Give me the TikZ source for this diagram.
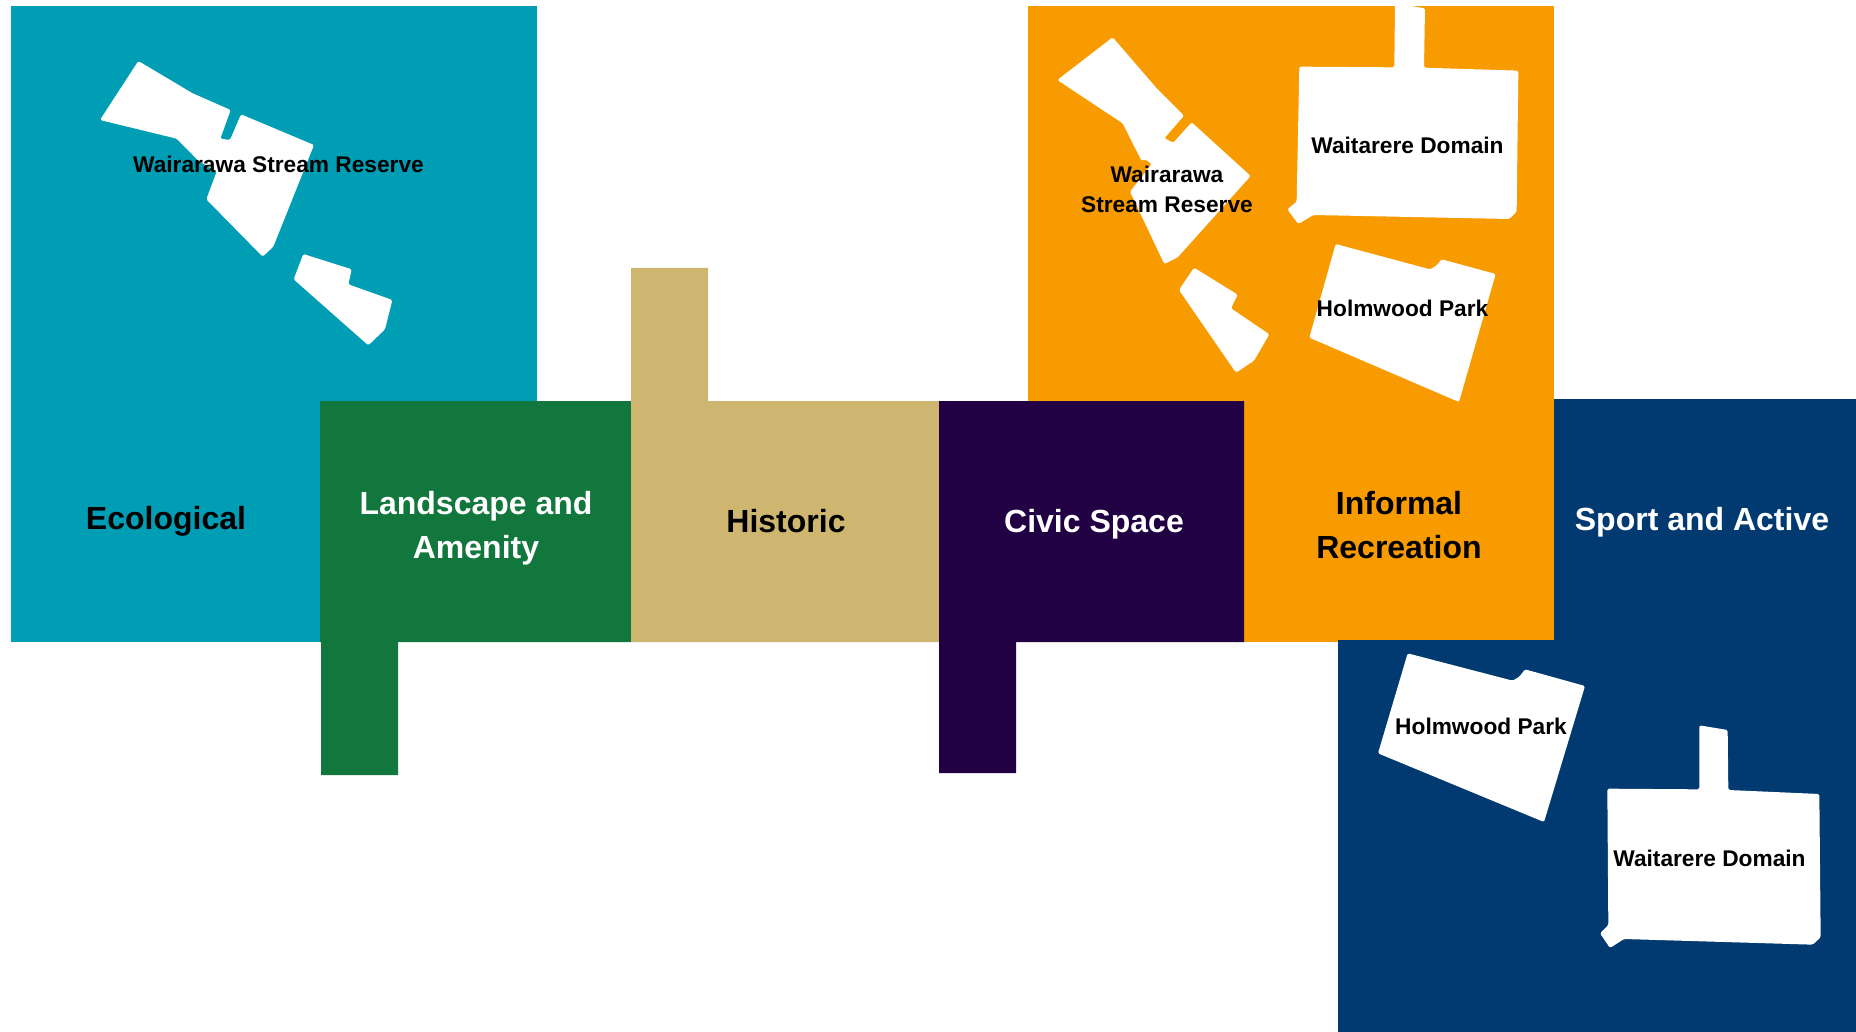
\documentclass[tikz,border=0pt]{standalone}
\usepackage{fontspec}
\setmainfont{Liberation Sans}
\definecolor{tealb}{HTML}{009EB5}
\definecolor{greenb}{HTML}{12773C}
\definecolor{sandb}{HTML}{CEB670}
\definecolor{purpleb}{HTML}{220044}
\definecolor{orangeb}{HTML}{F89B00}
\definecolor{navyb}{HTML}{003A70}
\tikzset{
  block/.style={fill=#1,draw=none},
  parcel/.style={fill=white,draw=none,rounded corners=1.5pt},
  biglabel/.style={font=\fontsize{32}{44}\selectfont\bfseries,align=center,inner sep=0pt},
  smalllabel/.style={font=\fontsize{22.7}{30}\selectfont\bfseries,align=center,inner sep=0pt},
  zoomed/.style={shift={#1},x=.33333pt,y=-.33333pt}
}
\begin{document}
\begin{tikzpicture}[x=1pt,y=-1pt]
\useasboundingbox (0,0) rectangle (1856,1032);
\fill[block=tealb] (11,6) rectangle (537,642);
\fill[block=orangeb] (1028,6) rectangle (1554,642);
\fill[block=navyb] (1554,399) -- (1856,399) -- (1856,1032) -- (1338,1032) -- (1338,640) -- (1554,640) -- cycle;
\fill[block=greenb] (320,401) -- (631,401) -- (631,642) -- (398,642) -- (398,775) -- (321,775) -- (321,642) -- (320,642) -- cycle;
\fill[block=sandb] (631,268) -- (708,268) -- (708,401) -- (939,401) -- (939,642) -- (631,642) -- cycle;
\fill[block=purpleb] (939,401) -- (1244,401) -- (1244,642) -- (1016,642) -- (1016,773) -- (939,773) -- cycle;
\begin{scope}[zoomed={(80,40)}]
\fill[parcel] (175,63) -- (338,160) -- (452,210) -- (421,296) -- (450,300) -- (483,223) -- (702,315) -- (580,620) -- (548,650) -- (379,478) -- (410,395) -- (355,362) -- (290,296) -- (60,240) -- cycle;
\fill[parcel] (670,642) -- (815,688) -- (805,733) -- (937,780) -- (915,868) -- (865,916) -- (641,718) -- cycle;
\end{scope}
\begin{scope}[zoomed={(1040,0)}]
\fill[parcel] (218,112) -- (350,265) -- (432,347) -- (373,415) -- (400,428) -- (455,367) -- (632,528) -- (413,772) -- (373,792) -- (270,575) -- (335,492) -- (315,478) -- (305,483) -- (248,370) -- (52,240) -- cycle;
\fill[parcel] (462,803) -- (593,884) -- (573,925) -- (688,1003) -- (642,1082) -- (588,1118) -- (417,870) -- cycle;
\end{scope}
\begin{scope}[zoomed={(1270,0)}]
\fill[parcel] (375,10) -- (465,25) -- (462,203) -- (745,212) -- (740,635) -- (718,657) -- (130,645) -- (85,672) -- (52,628) -- (80,605) -- (88,200) -- (373,202) -- cycle;
\end{scope}
\begin{scope}[zoomed={(1290,230)}]
\fill[parcel] (137,42) -- (420,118) -- (438,108) -- (455,88) -- (617,132) -- (507,516) -- (58,323) -- cycle;
\end{scope}
\begin{scope}[zoomed={(1360,640)}]
\fill[parcel] (143,40) -- (458,122) -- (478,110) -- (495,88) -- (675,138) -- (552,546) -- (54,340) -- cycle;
\end{scope}
\begin{scope}[zoomed={(1580,710)}]
\fill[parcel] (358,46) -- (443,60) -- (445,240) -- (718,252) -- (722,682) -- (698,704) -- (132,687) -- (90,714) -- (60,670) -- (85,645) -- (82,236) -- (358,238) -- cycle;
\end{scope}
\node[biglabel] (eco) at (166,521.5) {Ecological};
\node[biglabel,text=white] (land) at (476,528.4) {Landscape and\\Amenity};
\node[biglabel] (hist) at (786,521) {Historic};
\node[biglabel,text=white] (civic) at (1094,524) {Civic Space};
\node[biglabel] (inf) at (1399,524.8) {Informal\\Recreation};
\node[biglabel,text=white] (sport) at (1702,522.4) {Sport and Active};
\node[smalllabel] (wsr1) at (278.5,164) {Wairarawa Stream Reserve};
\node[smalllabel] (wsr2) at (1167,189) {Wairarawa\\Stream Reserve};
\node[smalllabel] (wd1) at (1407.5,145) {Waitarere Domain};
\node[smalllabel] (hp1) at (1402.5,308) {Holmwood Park};
\node[smalllabel] (hp2) at (1481,726) {Holmwood Park};
\node[smalllabel] (wd2) at (1709.5,858) {Waitarere Domain};
\end{tikzpicture}
\end{document}
